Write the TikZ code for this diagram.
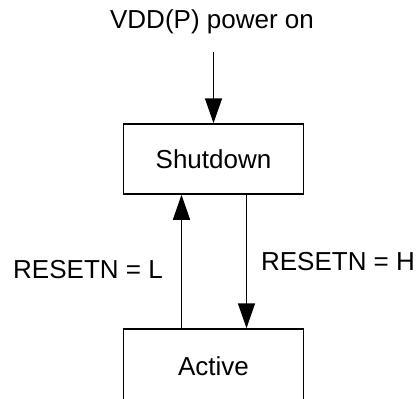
\documentclass[tikz,border=0pt]{standalone}
\usepackage{fontspec}
\setmainfont{Liberation Sans}
\usetikzlibrary{arrows.meta}
\begin{document}
\begin{tikzpicture}[x=1pt,y=-1pt,
  statebox/.style={draw,line width=1.5pt,minimum width=180pt,minimum height=70pt,inner sep=0pt,font=\fontsize{26}{30}\selectfont},
  lbl/.style={inner sep=0pt,font=\fontsize{26}{30}\selectfont},
  conn/.style={line width=1.5pt,-{Triangle[length=25pt,width=17pt]}}]
\useasboundingbox (0,0) rectangle (418,399);
\clip (0,0) rectangle (418,399);
\node[lbl] (top) at (212,22) {VDD(P) power on};
\coordinate (start) at (213.5,52);
\node[statebox] (sd) at (213.5,159) {Shutdown};
\node[statebox,minimum height=76pt] (act) at (213.5,367) {};
\node[lbl] (acttxt) at (213.5,366) {Active};
\node[lbl] (l) at (88,270) {RESETN = L};
\node[lbl] (h) at (338,262) {RESETN = H};
\draw[conn] (start) -- (sd.north);
\draw[conn] ([xshift=-32pt]act.north) -- ([xshift=-32pt]sd.south);
\draw[conn] ([xshift=33pt]sd.south) -- ([xshift=33pt]act.north);
\end{tikzpicture}
\end{document}
